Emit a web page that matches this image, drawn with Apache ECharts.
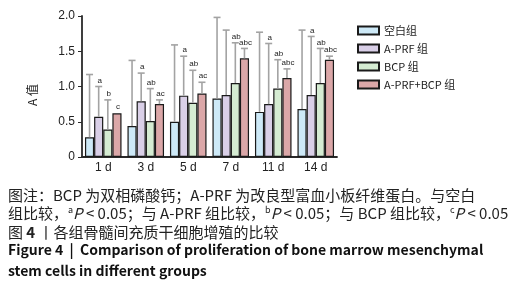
<!DOCTYPE html>
<html>
<head>
<meta charset="utf-8">
<script src="https://cdn.jsdelivr.net/npm/echarts@6/dist/echarts.min.js"></script>
<style>
  html, body { margin: 0; padding: 0; background: #fff; }
  #chart { width: 514px; height: 283px; }
</style>
</head>
<body>
<div id="chart"></div>
<script>
(function(){
  // data
  const categories = ['1 d', '3 d', '5 d', '7 d', '11 d', '14 d'];
  const groupNames = ['空白组', 'A-PRF 组', 'BCP 组', 'A-PRF+BCP 组'];
  const yTicks = [0, 0.5, 1.0, 1.5, 2.0];

  const blankMean = [0.28, 0.44, 0.50, 0.83, 0.64, 0.68];
  const blankSd   = [0.89, 0.93, 1.09, 1.15, 1.13, 1.12];
  const aprfMean  = [0.57, 0.79, 0.87, 0.88, 0.75, 0.88];
  const aprfSd    = [0.43, 0.40, 0.56, 0.92, 0.86, 0.83];
  const bcpMean   = [0.39, 0.51, 0.77, 1.05, 0.97, 1.05];
  const bcpSd     = [0.42, 0.46, 0.46, 0.57, 0.41, 0.49];
  const comboMean = [0.62, 0.75, 0.90, 1.40, 1.12, 1.38];
  const comboSd   = [0.01, 0.06, 0.16, 0.14, 0.13, 0.05];

  const blankMarks = ['', '', '', '', '', ''];
  const aprfMarks  = ['a', 'a', 'a', '', 'a', 'a'];
  const bcpMarks   = ['b', 'ab', 'ab', 'ab', 'ab', 'ab'];
  const comboMarks = ['c', 'ac', 'ac', 'abc', 'abc', 'abc'];

  const means = [blankMean, aprfMean, bcpMean, comboMean];
  const sds = [blankSd, aprfSd, bcpSd, comboSd];
  const marks = [blankMarks, aprfMarks, bcpMarks, comboMarks];

  const colors = ['#cde9f7', '#d9cfe7', '#d5ecd2', '#dba7a8'];
  const CAT_GAP = 0.14;
  const axisColor = '#2a2a2a';
  const cjk = '"Noto Sans CJK SC", "Noto Sans", sans-serif';

  const chart = echarts.init(document.getElementById('chart'), null, { renderer: 'canvas' });

  const barSeries = groupNames.map((name, g) => ({
    type: 'bar',
    name: name,
    data: means[g],
    barGap: '0%',
    barCategoryGap: (CAT_GAP * 100) + '%',
    itemStyle: { color: colors[g], borderColor: '#1a1a1a', borderWidth: 1.2 },
    emphasis: { disabled: true },
    z: 2
  }));

  const errSeries = groupNames.map((name, g) => ({
    type: 'custom',
    name: 'err-' + g,
    data: categories.map((c, i) => [i, means[g][i], means[g][i] + sds[g][i]]),
    z: 3,
    silent: true,
    renderItem: function(params, api){
      const ci = api.value(0);
      const band = api.size([1, 0])[0];
      const groupW = band * (1 - CAT_GAP);
      const bw = groupW / 4;
      const top = api.coord([ci, api.value(2)]);
      const yMean = api.coord([ci, api.value(1)])[1];
      const x = top[0] - groupW / 2 + bw * (g + 0.5);
      const yTop = top[1];
      const stroke = { stroke: '#a3a3a3', lineWidth: 1.6 };
      const children = [];
      if (yMean - yTop > 1) {
        children.push({ type: 'line', shape: { x1: x, y1: yMean, x2: x, y2: yTop }, style: stroke });
        children.push({ type: 'line', shape: { x1: x - 3.5, y1: yTop, x2: x + 3.5, y2: yTop }, style: stroke });
      }
      const m = marks[g][params.dataIndex];
      if (m) {
        children.push({
          type: 'text',
          style: {
            text: m, x: x + 1, y: yTop - 6,
            align: 'center', verticalAlign: 'middle',
            font: '8px "Liberation Sans", sans-serif', fill: '#222'
          }
        });
      }
      return { type: 'group', children: children };
    }
  }));

  const captionLines = [
    { y: 195, text: '图注：BCP 为双相磷酸钙；A-PRF 为改良型富血小板纤维蛋白。与空白' },
    { y: 213, text: '组比较，{s|a}{i|P} < 0.05；与 A-PRF 组比较，{s|b}{i|P} < 0.05；与 BCP 组比较，{s|c}{i|P} < 0.05' },
    { y: 232, text: '图 {b|4} 丨各组骨髓间充质干细胞增殖的比较' }
  ];
  const captionEn = [
    { y: 250, text: 'Figure 4  |  Comparison of proliferation of bone marrow mesenchymal' },
    { y: 271, text: 'stem cells in different groups' }
  ];

  const graphic = [
    {
      type: 'text', left: 26, top: 84, rotation: Math.PI / 2,
      style: { text: 'A 值', font: '12px ' + cjk, fill: '#222' }
    }
  ];
  captionLines.forEach(l => graphic.push({
    type: 'text', x: 8, y: l.y,
    style: {
      text: l.text, fill: '#222', verticalAlign: 'middle',
      font: '15px ' + cjk,
      rich: {
        s: { fontSize: 9, fontFamily: cjk, padding: [0, 0, 7, 0], fill: '#222' },
        i: { fontSize: 15, fontFamily: cjk, fontStyle: 'italic', fill: '#222' },
        b: { fontSize: 15, fontFamily: cjk, fontWeight: 'bold', fill: '#222' }
      }
    }
  }));
  captionEn.forEach(l => graphic.push({
    type: 'text', x: 8, y: l.y,
    style: { text: l.text, fill: '#111', verticalAlign: 'middle', font: 'bold 14px ' + cjk }
  }));

  chart.setOption({
    animation: false,
    grid: { left: 82, right: 177, top: 16, bottom: 126 },
    legend: {
      data: groupNames,
      orient: 'vertical',
      left: 352, top: 20,
      itemWidth: 21, itemHeight: 8, itemGap: 7,
      icon: 'rect',
      selectedMode: false,
      textStyle: { fontSize: 11, color: '#222', fontFamily: cjk }
    },
    xAxis: {
      type: 'category',
      data: categories,
      axisLine: { lineStyle: { color: axisColor, width: 1.8 } },
      axisTick: { alignWithLabel: true, length: 4, lineStyle: { color: axisColor } },
      axisLabel: { fontSize: 12, color: '#222', margin: 5, fontFamily: '"Liberation Sans", sans-serif' }
    },
    yAxis: {
      type: 'value',
      min: yTicks[0], max: yTicks[yTicks.length - 1], interval: 0.5,
      axisLine: { show: true, lineStyle: { color: axisColor, width: 1.8 } },
      axisTick: { show: true, length: 4, lineStyle: { color: axisColor } },
      splitLine: { show: false },
      axisLabel: {
        fontSize: 12, color: '#222', margin: 7, fontFamily: '"Liberation Sans", sans-serif',
        formatter: v => v === 0 ? '0' : v.toFixed(1)
      }
    },
    graphic: graphic,
    series: barSeries.concat(errSeries)
  });
})();
</script>
</body>
</html>
